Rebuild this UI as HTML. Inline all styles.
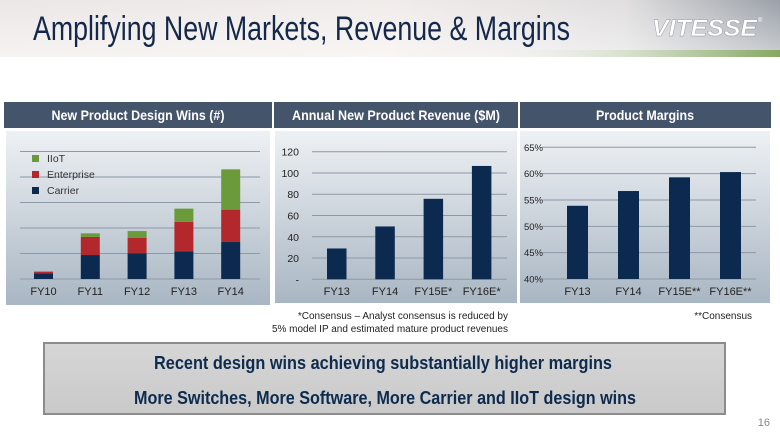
<!DOCTYPE html>
<html><head><meta charset="utf-8"><style>
html,body{margin:0;padding:0;background:#fff;width:780px;height:439px;overflow:hidden}
svg{display:block;font-family:"Liberation Sans",Arial,sans-serif}
</style></head><body>
<svg id="s" width="780" height="439" viewBox="0 0 780 439">
<defs>
<linearGradient id="hdr" x1="0" y1="0" x2="1" y2="0"><stop offset="0" stop-color="#ebe7e6"/><stop offset="0.5" stop-color="#f1ecea"/><stop offset="0.8" stop-color="#e0dedf"/><stop offset="1" stop-color="#9aa0a8"/></linearGradient>
<linearGradient id="hdrv" x1="0" y1="0" x2="0" y2="1"><stop offset="0" stop-color="#fff" stop-opacity="0"/><stop offset="1" stop-color="#fff" stop-opacity="0.5"/></linearGradient>
<linearGradient id="grn" x1="0" y1="0" x2="1" y2="0"><stop offset="0" stop-color="#fff" stop-opacity="0"/><stop offset="0.6" stop-color="#fff" stop-opacity="0"/><stop offset="1" stop-color="#86a860"/></linearGradient>
<linearGradient id="pan" x1="0" y1="0" x2="0" y2="1"><stop offset="0" stop-color="#eef1f4"/><stop offset="1" stop-color="#a9b6c3"/></linearGradient>
<linearGradient id="ban" x1="0" y1="0" x2="0" y2="1"><stop offset="0" stop-color="#d6d6d6"/><stop offset="1" stop-color="#c9c9c9"/></linearGradient>
</defs>
<rect x="0" y="0" width="780" height="57" fill="url(#hdr)"/>
<rect x="0" y="0" width="780" height="57" fill="url(#hdrv)"/>
<rect x="0" y="50" width="780" height="7" fill="url(#grn)"/>
<text x="33" y="40" font-size="34" fill="#14284a" textLength="537" lengthAdjust="spacingAndGlyphs">Amplifying New Markets, Revenue &amp; Margins</text>
<text x="652" y="36" font-size="24" font-weight="bold" font-style="italic" fill="#fff" stroke="#8a8f99" stroke-width="0.4" textLength="105" lengthAdjust="spacingAndGlyphs">VITESSE</text>
<text x="758" y="22" font-size="6" fill="#fff">®</text>

<g>
<rect x="4" y="102" width="268" height="26" fill="#44546a"/>
<rect x="274" y="102" width="244" height="26" fill="#44546a"/>
<rect x="520" y="102" width="251" height="26" fill="#44546a"/>
<text x="138" y="120" font-size="14" font-weight="bold" fill="#fff" text-anchor="middle" textLength="173" lengthAdjust="spacingAndGlyphs">New Product Design Wins (#)</text>
<text x="396" y="120" font-size="14" font-weight="bold" fill="#fff" text-anchor="middle" textLength="208" lengthAdjust="spacingAndGlyphs">Annual New Product Revenue ($M)</text>
<text x="645" y="120" font-size="14" font-weight="bold" fill="#fff" text-anchor="middle" textLength="98" lengthAdjust="spacingAndGlyphs">Product Margins</text>
</g>
<rect x="6" y="131" width="264" height="174" fill="url(#pan)"/>
<rect x="275" y="131" width="242" height="172" fill="url(#pan)"/>
<rect x="520" y="131" width="250" height="172" fill="url(#pan)"/>
<g id="c1"></g><g id="c2"></g><g id="c3"></g>

<text x="508" y="319" font-size="10" fill="#222" text-anchor="end">*Consensus – Analyst consensus is reduced by</text>
<text x="508" y="332" font-size="10" fill="#222" text-anchor="end">5% model IP and estimated mature product revenues</text>
<text x="752" y="319" font-size="10" fill="#222" text-anchor="end">**Consensus</text>

<rect x="44" y="343" width="681" height="71" fill="url(#ban)" stroke="#8c8c8c" stroke-width="2"/>
<text x="383" y="369" font-size="18" font-weight="bold" fill="#0d2b4e" text-anchor="middle" textLength="458" lengthAdjust="spacingAndGlyphs">Recent design wins achieving substantially higher margins</text>
<text x="385" y="404" font-size="18" font-weight="bold" fill="#0d2b4e" text-anchor="middle" textLength="502" lengthAdjust="spacingAndGlyphs">More Switches, More Software, More Carrier and IIoT design wins</text>
<text x="770" y="426" font-size="11" fill="#888" text-anchor="end">16</text>
</svg>
<script>
const winCats=["FY10","FY11","FY12","FY13","FY14"];
const carrier=[2.2,9.4,10.1,10.9,14.5];
const enterprise=[0.7,7.1,6.1,11.5,12.7];
const iiot=[0,1.4,2.6,5.2,15.8];
const revCats=["FY13","FY14","FY15E*","FY16E*"];
const revenue=[29,49.7,75.7,106.6];
const revTicks=[0,20,40,60,80,100,120];
const revTickLabels=["-","20","40","60","80","100","120"];
const marCats=["FY13","FY14","FY15E**","FY16E**"];
const margins=[53.9,56.7,59.3,60.3];
const marTicks=[40,45,50,55,60,65];
const NS="http://www.w3.org/2000/svg";
function mk(p,t,a,txt){const e=document.createElementNS(NS,t);for(const k in a)e.setAttribute(k,a[k]);if(txt!=null)e.textContent=txt;p.appendChild(e);return e;}
(function(){
const g=document.getElementById('c1');
const y=v=>279-v*2.55, x0=34, step=46.8, bw=19;
for(let i=0;i<=5;i++){const l=mk(g,'line',{x1:20,x2:260,y1:y(i*10),y2:y(i*10),stroke:'#8d99a6','stroke-width':1});
}
const cols=['#0c2a4f','#b3282d','#6b9a3a'];
winCats.forEach((c,i)=>{const x=x0+i*step;let base=0;
[carrier[i],enterprise[i],iiot[i]].forEach((v,k)=>{if(v>0){const r=mk(g,'rect',{x:x,y:y(base+v),width:bw,height:v*2.55,fill:cols[k]});

}base+=v;});
const t=mk(g,'text',{x:x+bw/2,y:295,'font-size':11,'text-anchor':'middle',fill:'#222'},c);
});
const leg=[['IIoT','#6b9a3a'],['Enterprise','#b3282d'],['Carrier','#0c2a4f']];
leg.forEach((l,i)=>{const r=mk(g,'rect',{x:32,y:155+i*16,width:7,height:7,fill:l[1]});

const t=mk(g,'text',{x:47,y:162+i*16,'font-size':10.5,fill:'#333'},l[0]);
});
})();
(function(){
const g=document.getElementById('c2');
const y=v=>279.3-v*(127.6/120), x0=327, step=48.3, bw=19.5;
revTicks.forEach((v,i)=>{const l=mk(g,'line',{x1:312,x2:507,y1:y(v),y2:y(v),stroke:'#8d99a6','stroke-width':1});

const t=mk(g,'text',{x:299,y:y(v)+4,'font-size':10.5,'text-anchor':'end',fill:'#222'},revTickLabels[i]);
});
revCats.forEach((c,i)=>{const x=x0+i*step;
const r=mk(g,'rect',{x:x,y:y(revenue[i]),width:bw,height:279.3-y(revenue[i]),fill:'#0c2a4f'});

const t=mk(g,'text',{x:x+bw/2,y:295,'font-size':11,'text-anchor':'middle',fill:'#222'},c);
});
})();
(function(){
const g=document.getElementById('c3');
const y=v=>279-(v-40)*(131.7/25), x0=567, step=51, bw=21;
marTicks.forEach(v=>{const l=mk(g,'line',{x1:542,x2:756,y1:y(v),y2:y(v),stroke:'#8d99a6','stroke-width':1});

const t=mk(g,'text',{x:543,y:y(v)+3.5,'font-size':9.5,'text-anchor':'end',fill:'#222'},v+'%');
});
marCats.forEach((c,i)=>{const x=x0+i*step;
const r=mk(g,'rect',{x:x,y:y(margins[i]),width:bw,height:279-y(margins[i]),fill:'#0c2a4f'});

const t=mk(g,'text',{x:x+bw/2,y:295,'font-size':11,'text-anchor':'middle',fill:'#222'},c);
});
})();
</script>
</body></html>
